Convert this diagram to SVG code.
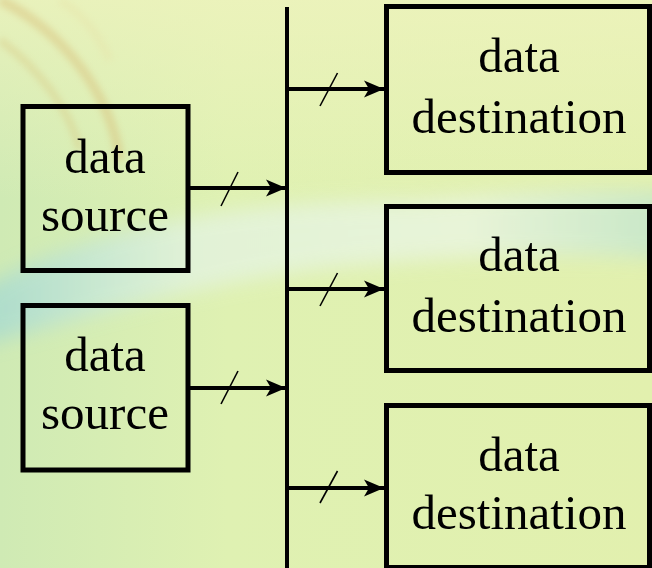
<svg xmlns="http://www.w3.org/2000/svg" width="652" height="568" viewBox="0 0 652 568">
  <defs>
    <linearGradient id="bg" x1="0" y1="0" x2="1" y2="0">
      <stop offset="0" stop-color="#cfeab4"/>
      <stop offset="0.35" stop-color="#dff1b2"/>
      <stop offset="1" stop-color="#e2f0ae"/>
    </linearGradient>
    <linearGradient id="topglow" x1="0" y1="0" x2="0" y2="1">
      <stop offset="0" stop-color="#eef3bd" stop-opacity="0.8"/>
      <stop offset="1" stop-color="#eef3bd" stop-opacity="0"/>
    </linearGradient>
    <linearGradient id="swoosh" x1="0" y1="0" x2="1" y2="0">
      <stop offset="0" stop-color="#a2d8d0"/>
      <stop offset="0.3" stop-color="#e3f3e0"/>
      <stop offset="0.7" stop-color="#eaf5e2"/>
      <stop offset="1" stop-color="#bfe4cc"/>
    </linearGradient>
    <filter id="soft" x="-20%" y="-50%" width="140%" height="200%">
      <feGaussianBlur stdDeviation="10"/>
    </filter>
    <filter id="soft2" x="-20%" y="-20%" width="140%" height="140%">
      <feGaussianBlur stdDeviation="3"/>
    </filter>
    <marker id="head" viewBox="-21 -10 22 20" refX="0" refY="0" markerWidth="22" markerHeight="20" markerUnits="userSpaceOnUse" orient="auto">
      <path d="M0,0 L-20,-8.5 L-15,0 L-20,8.5 Z" fill="#000"/>
    </marker>
    <style>
      .box { fill: none; stroke: #000; stroke-width: 5; }
      .bus { stroke: #000; stroke-width: 4; fill: none; }
      .wire { stroke: #000; stroke-width: 4; fill: none; marker-end: url(#head); }
      .tick { stroke: #000; stroke-width: 1.6; fill: none; }
      .lbl { font-family: "Liberation Serif", "Times New Roman", serif; font-size: 49px; fill: #000; text-anchor: middle; }
    </style>
  </defs>

  <!-- backdrop -->
  <g id="backdrop">
    <rect width="652" height="568" fill="url(#bg)"/>
    <rect width="652" height="200" fill="url(#topglow)"/>
    <path d="M-20,290 C120,205 330,200 420,200 C520,192 600,188 680,192 L680,260 C560,250 430,258 330,268 C200,282 80,320 -20,345 Z" fill="url(#swoosh)" opacity="0.8" filter="url(#soft)"/>
    <path d="M0,0 C60,30 110,90 120,160" stroke="#d9bf7a" stroke-width="10" fill="none" opacity="0.45" filter="url(#soft2)"/>
    <path d="M0,40 C40,70 70,110 80,150" stroke="#d8c27c" stroke-width="8" fill="none" opacity="0.35" filter="url(#soft2)"/>
    <path d="M60,0 C90,20 100,40 110,60" stroke="#e7e2a8" stroke-width="8" fill="none" opacity="0.4" filter="url(#soft2)"/>
  </g>

  <!-- connectors -->
  <g id="connectors">
    <line class="bus" x1="287" y1="7" x2="287" y2="568"/>
    <line class="wire" x1="190" y1="188" x2="286" y2="188"/>
    <line class="tick" x1="221" y1="206" x2="238" y2="172"/>
    <line class="wire" x1="190" y1="388" x2="286" y2="388"/>
    <line class="tick" x1="221" y1="404" x2="238" y2="371"/>
    <line class="wire" x1="289" y1="89" x2="384" y2="89"/>
    <line class="tick" x1="320" y1="106" x2="337.5" y2="73"/>
    <line class="wire" x1="289" y1="289" x2="384" y2="289"/>
    <line class="tick" x1="320" y1="306" x2="337.5" y2="273"/>
    <line class="wire" x1="289" y1="488" x2="384" y2="488"/>
    <line class="tick" x1="320" y1="503" x2="337.5" y2="471"/>
  </g>

  <g id="source1">
    <rect class="box" x="23" y="106.5" width="165" height="164"/>
    <text class="lbl" x="105" y="173">data</text>
    <text class="lbl" x="105" y="231">source</text>
  </g>
  <g id="source2">
    <rect class="box" x="23" y="305.5" width="165" height="164.5"/>
    <text class="lbl" x="105" y="371">data</text>
    <text class="lbl" x="105" y="429">source</text>
  </g>

  <g id="dest1">
    <rect class="box" x="386.5" y="6.5" width="263" height="166"/>
    <text class="lbl" x="519" y="72">data</text>
    <text class="lbl" x="519" y="133">destination</text>
  </g>
  <g id="dest2">
    <rect class="box" x="386.5" y="206.5" width="263" height="164"/>
    <text class="lbl" x="519" y="271">data</text>
    <text class="lbl" x="519" y="331.5">destination</text>
  </g>
  <g id="dest3">
    <rect class="box" x="386.5" y="405.5" width="263" height="162"/>
    <text class="lbl" x="519" y="471">data</text>
    <text class="lbl" x="519" y="529">destination</text>
  </g>
</svg>
